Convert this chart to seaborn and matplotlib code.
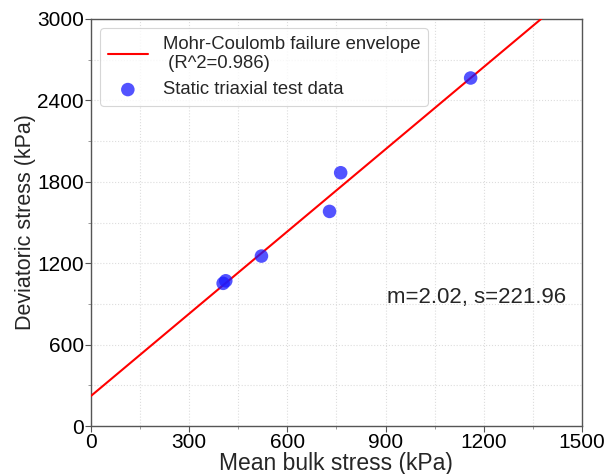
import numpy as np
import pandas as pd
import matplotlib
matplotlib.use("Agg")
import matplotlib.pyplot as plt
import seaborn as sns
from matplotlib.ticker import MultipleLocator

# Data
mean_bulk = [404, 412, 521, 729, 763, 1160]
deviatoric = [1052, 1071, 1253, 1582, 1867, 2565]
slope_m = 2.02
intercept_s = 221.96
r2 = 0.986
x_ticks = [0, 300, 600, 900, 1200, 1500]
y_ticks = [0, 600, 1200, 1800, 2400, 3000]

sns.set_style("ticks")
plt.rcParams['font.family'] = ['Liberation Sans', 'DejaVu Sans']

fig = plt.figure(figsize=(6.10, 4.74), dpi=100)
ax = fig.add_axes([0.149, 0.101, 0.805, 0.859])

line_x = np.array([0.0, 1500.0])
line_df = pd.DataFrame({"x": line_x, "y": slope_m * line_x + intercept_s})
sns.lineplot(data=line_df, x="x", y="y", ax=ax, color="red", lw=1.5,
             label=f"Mohr-Coulomb failure envelope\n (R^2={r2})", zorder=3)

pts = pd.DataFrame({"x": mean_bulk, "y": deviatoric})
sns.scatterplot(data=pts, x="x", y="y", ax=ax, color=(0.1, 0.1, 1.0), alpha=0.75,
                s=95, edgecolor="none", label="Static triaxial test data", zorder=4)

ax.set_xlim(0, 1500)
ax.set_ylim(0, 3000)
ax.set_xticks(x_ticks)
ax.set_yticks(y_ticks)
ax.xaxis.set_minor_locator(MultipleLocator(150))
ax.yaxis.set_minor_locator(MultipleLocator(300))
ax.grid(True, which="both", color="#dddddd", linestyle=":", linewidth=0.8)
ax.set_axisbelow(True)
ax.tick_params(which="major", direction="out", length=4, width=0.8, colors="#555555",
               labelsize=15, labelcolor="black", pad=1)
ax.tick_params(which="minor", direction="out", length=2, width=0.6, colors="#888888")
for sp in ax.spines.values():
    sp.set_color("#555555")
    sp.set_linewidth(1.0)

ax.set_xlabel("Mean bulk stress (kPa)", fontsize=16.5, labelpad=0)
ax.set_ylabel("Deviatoric stress (kPa)", fontsize=15.5, labelpad=1)

ax.text(0.603, 0.315, f"m={slope_m:.2f}, s={intercept_s:.2f}", transform=ax.transAxes,
        fontsize=16, ha="left", va="center")

leg = ax.legend(loc="upper left", fontsize=13.3, frameon=True, fancybox=True,
                edgecolor="#cccccc", borderaxespad=0.5, handlelength=2.2,
                labelspacing=0.5)
leg.get_frame().set_linewidth(0.8)

fig.savefig("out.png", dpi=100)
